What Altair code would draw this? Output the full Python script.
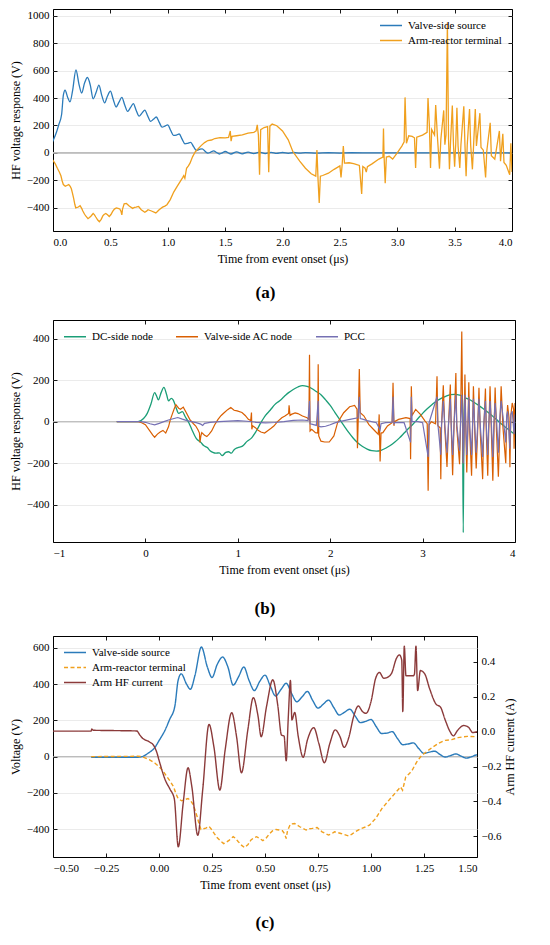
import altair as alt
import pandas as pd

FONT = "Liberation Serif"

# ---------------- data ----------------
# Valve-side source voltage (V) vs time (us) - shared by (a) and (c)
vs_pts = [(-0.32, -3), (-0.1, -3), (-0.08, 0), (-0.05, 20), (-0.02, 50), (0.0, 88), (0.03, 150),
          (0.05, 205), (0.075, 280), (0.09, 420), (0.105, 457), (0.13, 400), (0.148, 372), (0.17, 450),
          (0.2, 605), (0.228, 495), (0.25, 437), (0.275, 510), (0.3, 550), (0.325, 495), (0.35, 395),
          (0.375, 440), (0.4, 495), (0.425, 420), (0.45, 365), (0.475, 415), (0.5, 450), (0.525, 390),
          (0.55, 335), (0.575, 370), (0.6, 405), (0.625, 350), (0.65, 303), (0.675, 330), (0.7, 360),
          (0.725, 310), (0.75, 268), (0.775, 290), (0.8, 312), (0.825, 270), (0.85, 230), (0.875, 245),
          (0.9, 262), (0.925, 225), (0.95, 188), (0.975, 195), (1.0, 205), (1.025, 165), (1.05, 128),
          (1.075, 130), (1.1, 138), (1.125, 100), (1.15, 66), (1.175, 70), (1.2, 76), (1.225, 45),
          (1.25, 18), (1.275, 25), (1.3, 30), (1.325, 12), (1.35, -2), (1.375, 6), (1.4, 15),
          (1.425, 3), (1.45, -8), (1.475, 0), (1.5, 10), (1.55, -8), (1.6, 8), (1.65, -7), (1.7, 6),
          (1.75, -5), (1.8, 5), (1.85, -5), (1.9, 4), (1.95, -4), (2.0, 3), (2.05, -3), (2.1, 3),
          (2.15, -2), (2.2, 2), (2.3, -2), (2.4, 1), (2.5, -1), (2.6, 1), (2.8, 0), (3.0, 0),
          (3.5, 0), (4.0, 0)]

# Arm-reactor terminal voltage (V) - shared by (a) and (c)
ar_pts = [(-0.32, 0), (-0.1, 2), (-0.08, 0), (-0.046, -16), (-0.02, -35), (0.0, -55), (0.02, -80),
          (0.038, -112), (0.055, -140), (0.069, -167), (0.08, -205), (0.09, -231), (0.107, -244),
          (0.125, -236), (0.137, -231), (0.15, -245), (0.16, -262), (0.17, -295), (0.18, -332),
          (0.19, -375), (0.198, -402), (0.21, -398), (0.221, -395), (0.236, -385), (0.25, -405),
          (0.26, -424), (0.275, -448), (0.287, -462), (0.305, -480), (0.318, -472), (0.33, -462),
          (0.35, -442), (0.36, -450), (0.373, -468), (0.39, -490), (0.404, -502), (0.42, -485),
          (0.434, -460), (0.445, -450), (0.46, -442), (0.475, -452), (0.49, -464), (0.505, -450),
          (0.52, -427), (0.535, -410), (0.552, -402), (0.567, -405), (0.582, -409), (0.592, -425),
          (0.6, -452), (0.606, -410), (0.62, -372), (0.64, -369), (0.664, -387), (0.694, -405),
          (0.71, -398), (0.724, -396), (0.746, -391), (0.769, -415), (0.8, -433), (0.815, -425),
          (0.828, -415), (0.858, -424), (0.896, -438), (0.91, -428), (0.925, -415), (0.955, -396),
          (0.975, -388), (0.993, -378), (1.022, -341), (1.052, -286), (1.082, -244), (1.112, -204),
          (1.13, -180), (1.139, -167), (1.149, -185), (1.164, -112), (1.18, -95), (1.194, -75),
          (1.216, -29), (1.239, 7), (1.261, 26), (1.291, 53), (1.321, 75), (1.35, 90), (1.381, 94),
          (1.41, 105), (1.455, 112), (1.5, 110), (1.53, 113), (1.545, 160), (1.552, 85), (1.56, 120),
          (1.6, 125), (1.65, 132), (1.7, 145), (1.75, 150), (1.77, 160), (1.78, 205), (1.79, 130),
          (1.8, -160), (1.81, 170), (1.84, 185), (1.87, 192), (1.88, -142), (1.89, 195), (1.91, 210),
          (1.95, 198), (2.0, 160), (2.05, 95), (2.09, 10), (2.15, -60), (2.2, -112), (2.25, -152),
          (2.29, -170), (2.3, 20), (2.31, -200), (2.32, -365), (2.33, -170), (2.35, -165),
          (2.4, -148), (2.45, -120), (2.5, -95), (2.51, -180), (2.52, -85), (2.53, 50), (2.54, -75),
          (2.58, -72), (2.62, -78), (2.67, -92), (2.69, -300), (2.7, -100), (2.72, -112),
          (2.73, -140), (2.74, -100), (2.78, -80), (2.84, -45), (2.875, -30), (2.88, 178),
          (2.885, -20), (2.895, -222), (2.905, -30), (2.93, -25), (2.96, -45), (3.0, 0), (3.04, 50),
          (3.06, 80), (3.068, 405), (3.08, 70), (3.1, 125), (3.13, 120), (3.15, 110), (3.16, -110),
          (3.17, 115), (3.22, 130), (3.26, 150), (3.268, 400), (3.28, 200), (3.29, -110), (3.3, 170),
          (3.325, 130), (3.335, 350), (3.35, 120), (3.368, -115), (3.38, 100), (3.405, 310),
          (3.415, 60), (3.425, 130), (3.437, 950), (3.447, 100), (3.455, -120), (3.465, 90),
          (3.48, 345), (3.49, 60), (3.5, -100), (3.51, 70), (3.52, 330), (3.53, 50), (3.545, -110),
          (3.555, 60), (3.58, 340), (3.59, 60), (3.6, -170), (3.61, 60), (3.63, 320), (3.64, 55),
          (3.655, -120), (3.665, 50), (3.68, 320), (3.69, 50), (3.72, 290), (3.73, 40), (3.75, 20),
          (3.77, -180), (3.78, 10), (3.81, 220), (3.82, -20), (3.85, -45), (3.89, 160), (3.9, -60),
          (3.92, 140), (3.93, -70), (3.95, -90), (3.98, -160), (3.99, 70), (4.0, -140)]

# (b) DC-side node
dc_pts = [(-0.31, 0), (-0.08, 0), (-0.02, 15), (0.02, 40), (0.06, 85), (0.1, 140), (0.12, 125),
          (0.14, 105), (0.17, 140), (0.2, 165), (0.23, 130), (0.25, 100), (0.28, 112), (0.3, 105),
          (0.33, 70), (0.36, 40), (0.4, 48), (0.43, 25), (0.47, -5), (0.5, -35), (0.55, -80),
          (0.6, -100), (0.63, -115), (0.67, -125), (0.7, -140), (0.73, -148), (0.76, -152),
          (0.8, -150), (0.83, -164), (0.87, -148), (0.9, -145), (0.93, -152), (0.96, -135),
          (1.0, -125), (1.05, -118), (1.1, -95), (1.15, -78), (1.2, -45), (1.25, -5), (1.3, 30),
          (1.35, 55), (1.4, 82), (1.45, 100), (1.5, 120), (1.55, 140), (1.6, 155), (1.65, 167),
          (1.7, 174), (1.75, 170), (1.8, 160), (1.85, 145), (1.9, 130), (1.95, 105), (2.0, 78),
          (2.05, 45), (2.1, 12), (2.15, -20), (2.2, -52), (2.25, -80), (2.3, -103), (2.35, -120),
          (2.4, -132), (2.45, -140), (2.5, -142), (2.55, -138), (2.6, -128), (2.65, -115),
          (2.7, -98), (2.75, -78), (2.8, -55), (2.85, -32), (2.9, -10), (2.95, 15), (3.0, 40),
          (3.05, 62), (3.1, 82), (3.15, 100), (3.2, 112), (3.25, 122), (3.3, 130), (3.35, 132),
          (3.4, 128), (3.43, 120), (3.44, -535), (3.45, 115), (3.5, 108), (3.55, 95), (3.6, 80),
          (3.65, 65), (3.7, 48), (3.75, 30), (3.8, 10), (3.85, -10), (3.9, -28), (3.95, -45),
          (4.0, -62)]

# (b) Valve-side AC node
ac_pts = [(-0.31, 0), (-0.08, 0), (-0.04, -5), (0.0, -15), (0.04, -40), (0.08, -65), (0.1, -75),
          (0.13, -60), (0.16, -50), (0.19, -42), (0.22, -55), (0.25, -25), (0.27, 10), (0.29, 35),
          (0.31, 60), (0.33, 82), (0.36, 65), (0.38, 60), (0.41, 70), (0.44, 45), (0.48, 11),
          (0.52, -10), (0.545, -21), (0.57, -40), (0.585, -55), (0.59, -100), (0.6, -70),
          (0.61, -53), (0.64, -65), (0.665, -72), (0.69, -60), (0.717, -45), (0.75, -15),
          (0.786, 11), (0.82, 30), (0.855, 44), (0.89, 58), (0.924, 68), (0.96, 55), (0.993, 52),
          (1.045, 44), (1.08, 30), (1.114, 11), (1.14, 5), (1.148, 44), (1.152, -37), (1.16, -20),
          (1.19, -29), (1.22, -42), (1.25, -50), (1.29, -55), (1.32, -45), (1.36, -32),
          (1.39, -21), (1.43, 0), (1.476, 19), (1.51, 27), (1.55, 40), (1.555, 79), (1.565, 30),
          (1.58, 35), (1.62, 42), (1.65, 39), (1.7, 27), (1.75, 19), (1.77, 10), (1.776, 322),
          (1.782, -45), (1.8, -37), (1.84, -53), (1.865, -55), (1.87, 277), (1.876, -69),
          (1.9, -94), (1.94, -98), (1.99, -98), (2.04, -69), (2.08, -5), (2.146, 43), (2.21, 72),
          (2.264, 78), (2.29, 60), (2.295, -128), (2.305, 40), (2.315, 254), (2.325, 43),
          (2.366, 27), (2.417, -13), (2.485, -45), (2.52, -61), (2.53, 35), (2.54, -192),
          (2.55, -55), (2.57, -53), (2.62, -21), (2.67, -5), (2.68, 187), (2.69, -20), (2.695, 0),
          (2.74, 11), (2.82, 19), (2.865, 15), (2.87, -181), (2.878, 171), (2.886, 30),
          (2.925, 59), (2.976, 35), (3.027, 3), (3.05, -10), (3.06, -333), (3.07, -15),
          (3.095, 0), (3.14, -10), (3.156, 219), (3.165, -20), (3.19, -30), (3.197, -277),
          (3.205, -20), (3.224, 175), (3.24, -30), (3.264, -218), (3.28, -20), (3.3, 179),
          (3.31, -30), (3.325, -258), (3.34, -20), (3.36, 235), (3.37, -30), (3.4, -205),
          (3.41, -20), (3.424, 435), (3.434, -30), (3.44, -200), (3.45, -40), (3.458, 227),
          (3.468, -40), (3.478, -245), (3.49, -40), (3.5, 190), (3.51, -50), (3.53, -261),
          (3.54, -50), (3.55, 171), (3.565, -55), (3.58, -226), (3.595, -55), (3.61, 163),
          (3.625, -60), (3.65, -277), (3.66, -60), (3.68, 160), (3.69, -60), (3.705, -261),
          (3.715, -60), (3.73, 171), (3.745, -60), (3.76, -285), (3.772, -55), (3.785, 165),
          (3.8, -50), (3.82, -265), (3.835, -45), (3.85, 170), (3.87, -30), (3.9, -200),
          (3.91, 0), (3.92, 80), (3.935, 20), (3.945, -220), (3.955, 30), (3.97, 90),
          (3.985, 60), (3.99, -130), (4.0, 90)]

# (b) PCC
pcc_pts = [(-0.31, 0), (-0.05, 0), (0.0, -3), (0.05, -10), (0.1, -15), (0.15, -8), (0.2, 0),
           (0.25, 8), (0.3, 14), (0.35, 20), (0.4, 12), (0.45, 5), (0.5, 0), (0.55, -5), (0.6, -12),
           (0.62, -18), (0.64, -8), (0.7, -3), (0.8, 0), (0.9, 3), (1.0, 5), (1.1, 2), (1.2, -3),
           (1.3, -6), (1.4, -4), (1.5, 0), (1.6, 6), (1.7, 8), (1.76, 5), (1.776, 100),
           (1.782, -10), (1.8, -12), (1.85, -18), (1.87, 100), (1.876, -22), (1.9, -25),
           (1.95, -22), (2.0, -15), (2.05, -6), (2.1, 0), (2.2, 10), (2.3, 19), (2.315, 120),
           (2.325, 15), (2.35, 12), (2.4, 5), (2.5, -5), (2.54, -40), (2.55, -10), (2.6, -5),
           (2.67, -3), (2.68, 120), (2.69, -10), (2.7, -5), (2.8, -5), (2.87, -100), (2.878, 120),
           (2.886, 0), (2.95, 0), (3.0, -5), (3.06, -170), (3.07, -5), (3.156, 120), (3.165, -10),
           (3.197, -160), (3.205, -15), (3.224, 100), (3.24, -15), (3.264, -150), (3.28, -15),
           (3.3, 110), (3.31, -15), (3.325, -160), (3.34, -15), (3.36, 130), (3.37, -15),
           (3.4, -140), (3.41, -15), (3.424, 130), (3.434, -20), (3.44, -200), (3.45, -20),
           (3.458, 130), (3.468, -20), (3.478, -160), (3.49, -20), (3.5, 120), (3.51, -25),
           (3.53, -160), (3.54, -25), (3.55, 110), (3.565, -25), (3.58, -150), (3.595, -25),
           (3.61, 110), (3.625, -25), (3.65, -170), (3.66, -25), (3.68, 100), (3.69, -25),
           (3.705, -160), (3.715, -20), (3.73, 100), (3.745, -15), (3.76, -170), (3.772, 0),
           (3.785, 90), (3.8, 10), (3.82, -150), (3.835, 15), (3.85, 100), (3.87, 25),
           (3.9, -100), (3.91, 30), (3.92, 50), (3.945, -130), (3.955, 35), (3.97, 50),
           (3.99, -60), (4.0, 35)]

# (c) Arm HF current (A)
cur_pts = [(-0.5, 0.003), (-0.32, 0.003), (-0.317, 0.015), (-0.31, 0.008), (-0.2, 0.006),
           (-0.105, 0.004), (-0.09, -0.02), (-0.076, -0.039), (-0.046, -0.058), (-0.023, -0.083),
           (-0.01, -0.12), (0.0, -0.163), (0.03, -0.278), (0.053, -0.332), (0.072, -0.383),
           (0.091, -0.66), (0.114, -0.41), (0.137, -0.207), (0.155, -0.316), (0.183, -0.594),
           (0.206, -0.335), (0.236, 0.042), (0.259, -0.087), (0.287, -0.335), (0.312, -0.105),
           (0.343, 0.109), (0.366, -0.03), (0.389, -0.236), (0.419, 0.01), (0.445, 0.195),
           (0.467, 0.09), (0.482, -0.029), (0.507, 0.143), (0.537, 0.297), (0.56, 0.153),
           (0.578, -0.02), (0.59, -0.025), (0.6, -0.167), (0.61, 0.086), (0.62, 0.293),
           (0.627, 0.067), (0.64, 0.11), (0.657, -0.029), (0.68, -0.147), (0.70, -0.048),
           (0.73, 0.023), (0.754, -0.067), (0.78, -0.178), (0.806, -0.067), (0.831, 0.01),
           (0.854, -0.029), (0.873, -0.09), (0.896, -0.03), (0.918, 0.086), (0.94, 0.147),
           (0.96, 0.115), (0.977, 0.105), (1.0, 0.172), (1.022, 0.306), (1.04, 0.339),
           (1.06, 0.306), (1.075, 0.31), (1.097, 0.334), (1.12, 0.42), (1.134, 0.44),
           (1.145, 0.41), (1.15, 0.115), (1.157, 0.49), (1.165, 0.32), (1.2, 0.32), (1.205, 0.33),
           (1.212, 0.49), (1.22, 0.235), (1.233, 0.35), (1.254, 0.33), (1.276, 0.248),
           (1.306, 0.159), (1.328, 0.14), (1.35, 0.067), (1.373, 0.0), (1.388, -0.024),
           (1.41, 0.01), (1.437, 0.035), (1.46, 0.025), (1.48, -0.005), (1.5, 0.0)]

names_a = ["Valve-side source", "Arm-reactor terminal"]
names_b = ["DC-side node", "Valve-side AC node", "PCC"]
names_c = ["Valve-side source", "Arm-reactor terminal", "Arm HF current"]
colors_a = ["#2b7bba", "#f0a01e"]
colors_b = ["#1b9e77", "#d95f02", "#7570b3"]
colors_c = ["#2b7bba", "#f0a01e", "#8b3a3a"]
dashes_c = [[1, 0], [4, 2.5], [1, 0]]

xdom_a, ydom_a = [0, 4], [-570, 1050]
xdom_b, ydom_b = [-1, 4], [-580, 490]
xdom_c, ydom_c, ydom_cur = [-0.5, 1.5], [-554, 666], [-0.718, 0.548]

xt_a = [0, 0.5, 1.0, 1.5, 2.0, 2.5, 3.0, 3.5, 4.0]
yt_a = [-400, -200, 0, 200, 400, 600, 800, 1000]
xt_b = [-1, 0, 1, 2, 3, 4]
yt_b = [-400, -200, 0, 200, 400]
xt_c = [-0.5, -0.25, 0, 0.25, 0.5, 0.75, 1.0, 1.25, 1.5]
yt_c = [-400, -200, 0, 200, 400, 600]
yt_cur = [-0.6, -0.4, -0.2, 0.0, 0.2, 0.4]

XTITLE = "Time from event onset (μs)"


def frame(pts, name):
    return pd.DataFrame({"t": [p[0] for p in pts], "v": [p[1] for p in pts], "s": name})


def main_axis(orient, values, fmt, title, grid=False, lp=5, tp=6, angle=None, baseline=None):
    kw = dict(orient=orient, values=values, format=fmt, title=title, grid=grid,
              gridColor="#e6e6e6", gridWidth=0.8, offset=-4, tickSize=4, tickWidth=0.9,
              tickColor="black", domain=False, labelPadding=lp, titlePadding=tp,
              labelFont=FONT, labelFontSize=11, titleFont=FONT, titleFontSize=12,
              titleFontWeight="normal", labelColor="black", titleColor="black")
    if angle is not None:
        kw["titleAngle"] = angle
    if baseline is not None:
        kw["titleBaseline"] = baseline
    return alt.Axis(**kw)


def tick_axis(orient, values):
    return alt.Axis(orient=orient, values=values, labels=False, title=None, grid=False,
                    offset=-4, tickSize=4, tickWidth=0.9, tickColor="black", domain=False)


def legend(orient, direction="vertical", offset=10):
    return alt.Legend(title=None, orient=orient, direction=direction, offset=offset, padding=0,
                      symbolType="M-1,0H3", symbolSize=121, symbolStrokeWidth=1.5,
                      labelOffset=16, labelFont=FONT, labelFontSize=11, labelColor="black",
                      rowPadding=3, columnPadding=20)


def caption(text, dx, offset):
    return alt.TitleParams(text=text, orient="bottom", anchor="middle", frame="group",
                           font=FONT, fontSize=17, fontWeight="bold", color="black",
                           offset=offset, dx=dx)


def zero_rule(xdom, xs, ys, xticks, yticks, color, width, right=True):
    df = pd.DataFrame({"x0": [xdom[0]], "x1": [xdom[1]], "y": [0]})
    enc = dict(x=alt.X("x0:Q", scale=xs, axis=tick_axis("top", xticks)), x2="x1:Q")
    if right:
        enc["y"] = alt.Y("y:Q", scale=ys, axis=tick_axis("right", yticks))
    else:
        enc["y"] = alt.Y("y:Q", scale=ys, axis=None)
    return alt.Chart(df).mark_rule(color=color, strokeWidth=width).encode(**enc)


# ---------------- panel (a) ----------------
xs_a = alt.Scale(domain=xdom_a, nice=False, zero=False)
ys_a = alt.Scale(domain=ydom_a, nice=False, zero=False)
col_a = alt.Scale(domain=names_a, range=colors_a)
leg_a = legend("top-right")

za = zero_rule(xdom_a, xs_a, ys_a, xt_a, yt_a, "#bdbdbd", 1.6)
la1 = alt.Chart(frame(vs_pts, names_a[0])).mark_line(
    interpolate="monotone", strokeWidth=1.3, clip=True).encode(
    x=alt.X("t:Q", scale=xs_a, axis=main_axis("bottom", xt_a, ".1f", XTITLE)),
    y=alt.Y("v:Q", scale=ys_a, axis=main_axis("left", yt_a, "d", "HF voltage response (V)",
                                                grid=True, lp=4, tp=4)),
    color=alt.Color("s:N", scale=col_a, legend=leg_a))
la2 = alt.Chart(frame(ar_pts, names_a[1])).mark_line(strokeWidth=1.3, clip=True).encode(
    x=alt.X("t:Q", scale=xs_a, axis=None),
    y=alt.Y("v:Q", scale=ys_a, axis=None),
    color=alt.Color("s:N", scale=col_a, legend=leg_a))
pa = alt.layer(za, la1, la2).resolve_axis(x="independent", y="independent").properties(
    width=459, height=222, title=caption("(a)", -17, 21))

# ---------------- panel (b) ----------------
xs_b = alt.Scale(domain=xdom_b, nice=False, zero=False)
ys_b = alt.Scale(domain=ydom_b, nice=False, zero=False)
col_b = alt.Scale(domain=names_b, range=colors_b)
leg_b = legend("top-left", direction="horizontal")

zb = zero_rule(xdom_b, xs_b, ys_b, xt_b, yt_b, "#b5b5b5", 1.0)
lb1 = alt.Chart(frame(dc_pts, names_b[0])).mark_line(
    interpolate="monotone", strokeWidth=1.3, clip=True).encode(
    x=alt.X("t:Q", scale=xs_b, axis=main_axis("bottom", xt_b, "d", XTITLE)),
    y=alt.Y("v:Q", scale=ys_b, axis=main_axis("left", yt_b, "d", "HF voltage response (V)",
                                                grid=True, lp=4, tp=4)),
    color=alt.Color("s:N", scale=col_b, legend=leg_b))
lb2 = alt.Chart(frame(ac_pts, names_b[1])).mark_line(strokeWidth=1.2, clip=True).encode(
    x=alt.X("t:Q", scale=xs_b, axis=None), y=alt.Y("v:Q", scale=ys_b, axis=None),
    color=alt.Color("s:N", scale=col_b, legend=leg_b))
lb3 = alt.Chart(frame(pcc_pts, names_b[2])).mark_line(strokeWidth=1.2, clip=True).encode(
    x=alt.X("t:Q", scale=xs_b, axis=None), y=alt.Y("v:Q", scale=ys_b, axis=None),
    color=alt.Color("s:N", scale=col_b, legend=leg_b))
pb = alt.layer(zb, lb1, lb2, lb3).resolve_axis(x="independent", y="independent").properties(
    width=462, height=222, title=caption("(b)", -19, 26))

# ---------------- panel (c) ----------------
xs_c = alt.Scale(domain=xdom_c, nice=False, zero=False)
ys_c = alt.Scale(domain=ydom_c, nice=False, zero=False)
ys_cur = alt.Scale(domain=ydom_cur, nice=False, zero=False)
col_c = alt.Scale(domain=names_c, range=colors_c)
dash_c = alt.Scale(domain=names_c, range=dashes_c)
leg_c = legend("top-left")

zc = zero_rule(xdom_c, xs_c, ys_c, xt_c, yt_c, "#a8a8a8", 0.9, right=False)
lc1 = alt.Chart(frame(vs_pts, names_c[0])).mark_line(
    interpolate="monotone", strokeWidth=1.4, clip=True).encode(
    x=alt.X("t:Q", scale=xs_c, axis=main_axis("bottom", xt_c, ".2f", XTITLE)),
    y=alt.Y("v:Q", scale=ys_c, axis=main_axis("left", yt_c, "d", "Voltage (V)",
                                                grid=True, lp=4, tp=4)),
    color=alt.Color("s:N", scale=col_c, legend=leg_c),
    strokeDash=alt.StrokeDash("s:N", scale=dash_c, legend=leg_c))
lc2 = alt.Chart(frame(ar_pts, names_c[1])).mark_line(strokeWidth=1.4, clip=True).encode(
    x=alt.X("t:Q", scale=xs_c, axis=None), y=alt.Y("v:Q", scale=ys_c, axis=None),
    color=alt.Color("s:N", scale=col_c, legend=leg_c),
    strokeDash=alt.StrokeDash("s:N", scale=dash_c, legend=leg_c))
lc3 = alt.Chart(frame(cur_pts, names_c[2])).mark_line(
    interpolate="monotone", strokeWidth=1.4, clip=True).encode(
    x=alt.X("t:Q", scale=xs_c, axis=None),
    y=alt.Y("v:Q", scale=ys_cur, axis=main_axis("right", yt_cur, ".1f", "Arm HF current (A)",
                                                  lp=4, tp=4, angle=270, baseline="top")),
    color=alt.Color("s:N", scale=col_c, legend=leg_c),
    strokeDash=alt.StrokeDash("s:N", scale=dash_c, legend=leg_c))
pc = alt.layer(zc, lc1, lc2, lc3).resolve_axis(x="independent", y="independent").resolve_scale(
    y="independent").properties(width=424, height=221, title=caption("(c)", 0, 25))

chart = alt.vconcat(pa, pb, pc, spacing=17).resolve_scale(
    color="independent", strokeDash="independent"
).properties(
    padding={"left": 0, "top": 0, "right": 0, "bottom": 0}, background="white"
).configure_view(stroke="black", strokeWidth=1)

chart.save("out.html", embed_options={"renderer": "svg", "actions": False})
